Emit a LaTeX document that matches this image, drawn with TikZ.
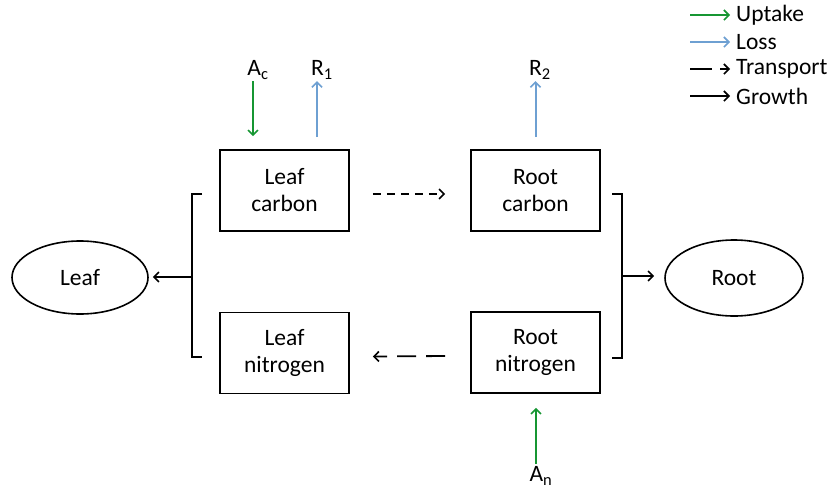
\documentclass[tikz,border=0pt]{standalone}
\usepackage{fontspec}
\setmainfont{Carlito}
\usetikzlibrary{arrows.meta,shapes.geometric}
\definecolor{upg}{RGB}{22,150,50}
\definecolor{lossb}{RGB}{110,160,210}
\begin{document}
\begin{tikzpicture}[x=1pt,y=-1pt,
  font=\fontsize{23.5}{27}\selectfont,
  box/.style={draw,line width=1.6pt,minimum width=129pt,minimum height=81pt,align=center,inner sep=0pt},
  oval/.style={draw,line width=1.6pt,ellipse,inner sep=0pt},
  tip/.style={-{Straight Barb[length=5pt,width=10pt,line width=1.6pt]}},
  uptake/.style={tip,draw=upg,line width=2pt},
  loss/.style={tip,draw=lossb,line width=2pt},
  growth/.style={tip,line width=1.8pt},
  transport/.style={tip,line width=1.8pt},
  brk/.style={line width=1.8pt},
  lab/.style={anchor=west,inner sep=0pt},
  flux/.style={inner sep=1pt}
]
\useasboundingbox (0,0) rectangle (834,490);
\node[box] (lc) at (284.5,190.5) {Leaf\\carbon};
\node[box] (ln) at (284.5,353) {Leaf\\nitrogen};
\node[box] (rc) at (535.5,190.5) {Root\\carbon};
\node[box] (rn) at (535.5,352.5) {Root\\nitrogen};
\node[oval,minimum width=136pt,minimum height=73pt] (leaf) at (80,277.5) {Leaf};
\node[oval,minimum width=138pt,minimum height=76pt] (root) at (734,278) {Root};
% brackets
\draw[brk] (202,194) -- (192,194) -- (192,357) -- (202,357);
\draw[brk] (612,194) -- (622,194) -- (622,358) -- (612,358);
\coordinate (lb) at (192,277);
\coordinate (rb) at (622,276);
\draw[growth,shorten >=4pt] (lb) -- (leaf.east |- lb);
\draw[growth,shorten >=10pt] (rb) -- (root.west |- rb);
% transport
\draw[transport,dash pattern=on 8pt off 6pt] ([xshift=23pt,yshift=-3.5pt]lc.east) -- ([xshift=-25pt,yshift=-3.5pt]rc.west);
\draw[transport,dash pattern=on 19pt off 10pt] ([xshift=-25pt,yshift=-3.5pt]rn.west) -- ([xshift=23pt,yshift=-3.5pt]ln.east);
% fluxes
\node[flux] (ac) at (258,70) {A\textsubscript{c}};
\node[flux] (r1) at (322,70) {R\textsubscript{1}};
\node[flux] (r2) at (540,70) {R\textsubscript{2}};
\node[flux] (an) at (541,476) {A\textsubscript{n}};
\draw[uptake] ([xshift=-31.5pt,yshift=68pt]lc.north) -- ([xshift=-31.5pt,yshift=13pt]lc.north);
\draw[loss] ([xshift=32.5pt,yshift=12pt]lc.north) -- ([xshift=32.5pt,yshift=68pt]lc.north);
\draw[loss] ([yshift=12pt]rc.north) -- ([yshift=68pt]rc.north);
\draw[uptake] ([xshift=0.5pt,yshift=-70pt]rn.south) -- ([xshift=0.5pt,yshift=-14pt]rn.south);
% legend
\draw[uptake] (690,15) -- (730,15);
\node[lab] (lu) at (736,15) {Uptake};
\draw[loss] (690,42) -- (730,42);
\node[lab] (ll) at (736,42) {Loss};
\draw[transport,dash pattern=on 22pt off 8pt] (690,69) -- (730,69);
\node[lab] (lt) at (736,69) {Transport};
\draw[growth] (690,96) -- (730,96);
\node[lab] (lg) at (736,96) {Growth};
\end{tikzpicture}
\end{document}
